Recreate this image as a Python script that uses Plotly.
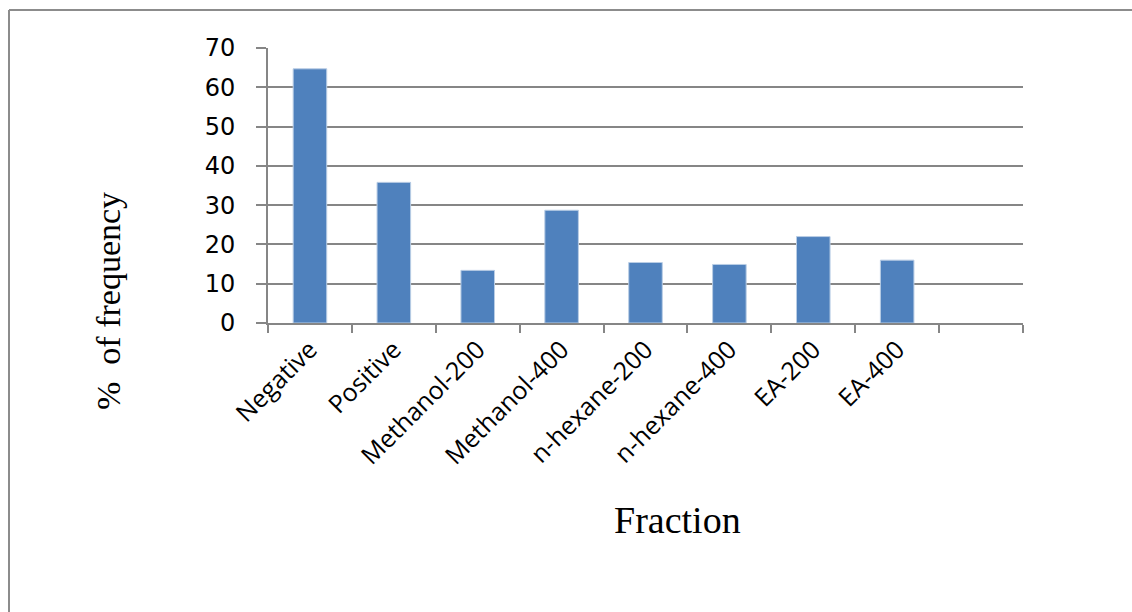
import plotly.graph_objects as go

# Fractions tested and the % frequency recorded for each
fractions = ["Negative", "Positive", "Methanol-200", "Methanol-400",
             "n-hexane-200", "n-hexane-400", "EA-200", "EA-400", " "]
frequency = [64.7, 35.8, 13.4, 28.7, 15.4, 14.9, 22.0, 16.0, None]
y_ticks = [0, 10, 20, 30, 40, 50, 60, 70]

W, H = 1132, 612
L, R, T, B = 268, 109, 48, 289
pw, ph = W - L - R, H - T - B

fig = go.Figure(
    go.Bar(
        x=fractions,
        y=frequency,
        marker=dict(color="#4F81BD", line=dict(color="#B9CDE5", width=1)),
        width=0.4,
    )
)

grey = "#868686"

fig.update_layout(
    width=W,
    height=H,
    margin=dict(l=L, r=R, t=T, b=B, pad=0),
    paper_bgcolor="white",
    plot_bgcolor="white",
    showlegend=False,
    bargap=0.6,
    xaxis=dict(
        type="category",
        range=[-0.5, 8.5],
        showline=True,
        linecolor=grey,
        linewidth=2,
        ticks="outside",
        tickson="boundaries",
        ticklen=8,
        tickwidth=2,
        tickcolor=grey,
        tickangle=-45,
        showgrid=False,
        tickfont=dict(family="Open Sans", size=25, color="black"),
    ),
    yaxis=dict(
        range=[0, 70],
        tickvals=y_ticks,
        showline=True,
        linecolor=grey,
        linewidth=2,
        ticks="outside",
        ticklen=10,
        tickwidth=2,
        tickcolor=grey,
        showgrid=True,
        gridcolor=grey,
        gridwidth=2,
        zeroline=False,
        ticklabelstandoff=16,
        tickfont=dict(family="DejaVu Sans", size=24, color="black"),
    ),
    shapes=[
        # outer chart border: left and top edges
        dict(type="line", xref="paper", yref="paper",
             x0=(9 - L) / pw, x1=(9 - L) / pw,
             y0=1 + (T - 10) / ph, y1=-(H - T - ph) / ph - 0.1,
             line=dict(color="#8C8C8C", width=2)),
        dict(type="line", xref="paper", yref="paper",
             x0=(9 - L) / pw, x1=(W + 20 - L) / pw,
             y0=1 + (T - 10) / ph, y1=1 + (T - 10) / ph,
             line=dict(color="#8C8C8C", width=2)),
    ],
    annotations=[
        dict(text="% \u00a0of frequency", xref="paper", yref="paper",
             x=(108 - L) / pw, y=1 - (301 - T) / ph,
             xanchor="center", yanchor="middle", textangle=-90,
             showarrow=False,
             font=dict(family="Liberation Serif", size=34, color="black")),
        dict(text="Fraction", xref="paper", yref="paper",
             x=(677 - L) / pw, y=1 - (520 - T) / ph,
             xanchor="center", yanchor="middle",
             showarrow=False,
             font=dict(family="Liberation Serif", size=38, color="black")),
    ],
)

fig.write_html("out.html")
